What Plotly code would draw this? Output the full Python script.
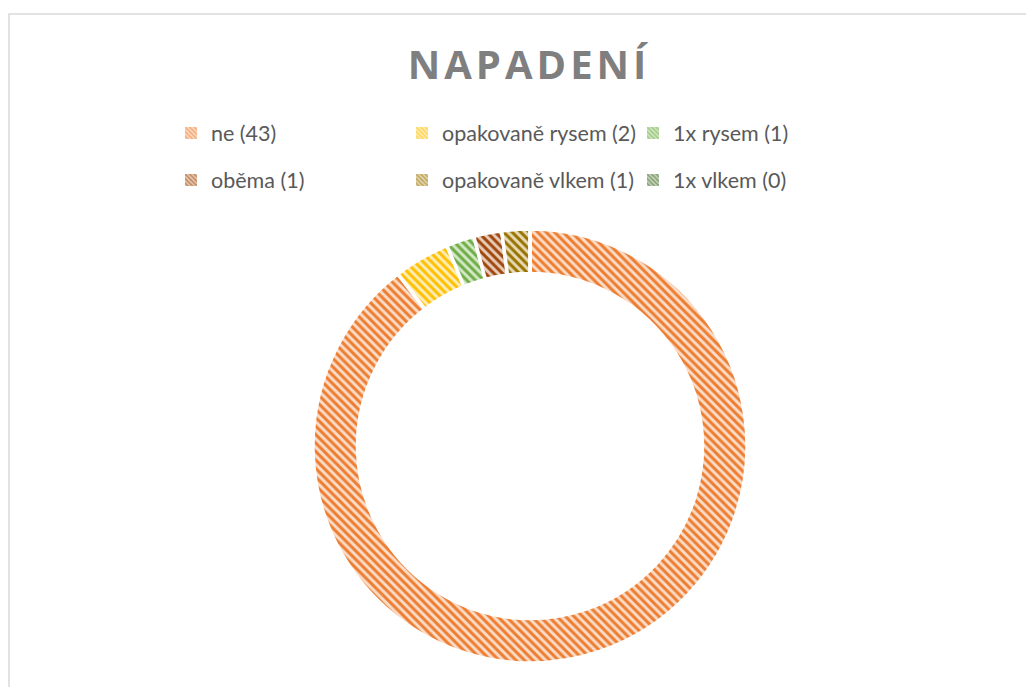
import plotly.graph_objects as go

# Data
categories = ["ne (43)", "opakovaně rysem (2)", "1x rysem (1)",
              "oběma (1)", "opakovaně vlkem (1)", "1x vlkem (0)"]
values = [43, 2, 1, 1, 1, 0]
title_text = "NAPADENÍ"

# Styles
strong = ["#ED7D31", "#FFC000", "#70AD47", "#9E480E", "#997300", "#43682B"]
light = ["#FBDCC7", "#FFEDB8", "#D3E8C5", "#E8CCB8", "#E6DAB8", "#CAD8C1"]

# page body adds an 8px offset; figure sized to fit the window
OFF = 8
W, H = 1034 - OFF, 687 - OFF


def px(x):
    return (x - OFF) / W


def py(y):
    return 1 - (y - OFF) / H


fig = go.Figure()

fig.add_trace(go.Pie(
    labels=categories,
    values=values,
    hole=0.795,
    sort=False,
    direction="clockwise",
    rotation=0,
    textinfo="none",
    hoverinfo="label+value",
    showlegend=False,
    marker=dict(
        colors=light,
        line=dict(color="white", width=3.5),
        pattern=dict(shape="\\", fgcolor=strong, bgcolor=light,
                     size=6, solidity=0.5, fillmode="replace"),
    ),
    domain=dict(x=[px(530) - 0.44, px(530) + 0.44], y=[py(663), py(229)]),
))

# legend entries (two rows, three columns)
for i, (name, c_s, c_l) in enumerate(zip(categories, strong, light)):
    fig.add_trace(go.Bar(
        x=[None], y=[None], name=name,
        marker=dict(color=c_l, line=dict(width=0),
                    pattern=dict(shape="\\", fgcolor=c_s, bgcolor=c_l,
                                 size=4, solidity=0.55)),
        legend="legend" if i < 3 else "legend2",
        showlegend=True, hoverinfo="skip",
    ))

legend_common = dict(
    orientation="h",
    xanchor="left",
    yanchor="middle",
    x=px(171),
    entrywidth=186,
    entrywidthmode="pixels",
    font=dict(family="Lato", size=21.5, color="#595959"),
    bgcolor="rgba(0,0,0,0)",
    itemclick=False, itemdoubleclick=False,
)

fig.update_layout(
    width=W, height=H,
    margin=dict(l=0, r=0, t=0, b=0),
    paper_bgcolor="white",
    plot_bgcolor="white",
    title=dict(
        text="\u200a".join(title_text),
        x=px(527), xanchor="center",
        y=py(65), yanchor="middle",
        font=dict(family="Open Sans", size=40, color="#7F7F7F", weight=700),
    ),
    legend=dict(y=py(133), **legend_common),
    legend2=dict(y=py(180), **legend_common),
    xaxis=dict(visible=False),
    yaxis=dict(visible=False),
    shapes=[dict(type="rect", xref="paper", yref="paper",
                 x0=px(9), x1=1.05, y0=-0.05, y1=py(14),
                 line=dict(color="#D9D9D9", width=1.5))],
)

fig.write_html("out.html")
